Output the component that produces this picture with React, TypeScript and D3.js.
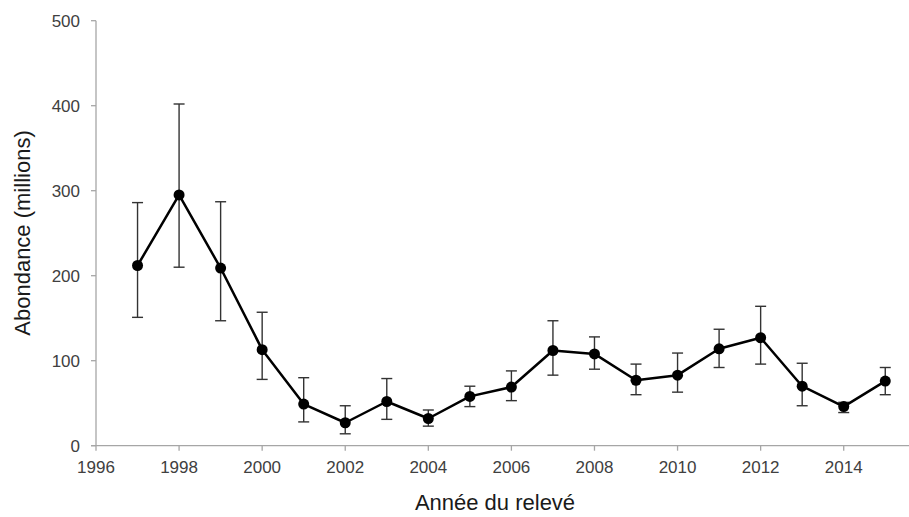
import React from "react";
import * as d3 from "d3";

const years = [1997, 1998, 1999, 2000, 2001, 2002, 2003, 2004, 2005, 2006, 2007, 2008, 2009, 2010, 2011, 2012, 2013, 2014, 2015];
const abundance = [212, 295, 209, 113, 49, 27, 52, 32, 58, 69, 112, 108, 77, 83, 114, 127, 70, 46, 76];
const upper = [286, 402, 287, 157, 80, 47, 79, 42, 70, 88, 147, 128, 96, 109, 137, 164, 97, 51, 92];
const lower = [151, 210, 147, 78, 28, 14, 31, 23, 46, 53, 83, 90, 60, 63, 92, 96, 47, 39, 60];
const xTicks = [1996, 1998, 2000, 2002, 2004, 2006, 2008, 2010, 2012, 2014];
const yTicks = [0, 100, 200, 300, 400, 500];

const W = 909;
const H = 517;
const FONT = "'Liberation Sans', Arial, sans-serif";

export default function App() {
  const x = d3.scaleLinear().domain([1996, 2016]).range([96, 926.8]);
  const y = d3.scaleLinear().domain([0, 500]).range([445.7, 20.7]);
  const line = d3
    .line<number>()
    .x((_, i) => x(years[i]))
    .y((d) => y(d));
  const axisColor = "#a6a6a6";
  const cap = 5.5;

  return (
    <svg
      width={W}
      height={H}
      style={{ position: "absolute", left: 0, top: 0, background: "#fff" }}
      fontFamily={FONT}
    >
      {/* Y axis */}
      <line x1={x(1996)} x2={x(1996)} y1={y(500)} y2={y(0)} stroke={axisColor} strokeWidth={1.3} />
      {yTicks.map((t) => (
        <g key={"y" + t}>
          <line x1={x(1996) - 5} x2={x(1996)} y1={y(t)} y2={y(t)} stroke={axisColor} strokeWidth={1.3} />
          <text x={80} y={y(t)} dy="0.35em" textAnchor="end" fontSize={17} fill="#404040">
            {t}
          </text>
        </g>
      ))}
      {/* X axis */}
      <line x1={x(1996) - 5} x2={W} y1={y(0)} y2={y(0)} stroke={axisColor} strokeWidth={1.3} />
      {xTicks.map((t) => (
        <g key={"x" + t}>
          <line x1={x(t)} x2={x(t)} y1={y(0)} y2={y(0) + 5} stroke={axisColor} strokeWidth={1.3} />
          <text x={x(t)} y={473} textAnchor="middle" fontSize={17} fill="#404040">
            {t}
          </text>
        </g>
      ))}
      {/* Axis titles */}
      <text x={495} y={510} textAnchor="middle" fontSize={22} fill="#1a1a1a">
        Année du relevé
      </text>
      <text
        transform={`translate(30, 233) rotate(-90)`}
        textAnchor="middle"
        fontSize={22}
        fill="#1a1a1a"
      >
        Abondance (millions)
      </text>
      {/* Error bars */}
      {years.map((yr, i) => (
        <g key={"e" + yr} stroke="#333" strokeWidth={1.4}>
          <line x1={x(yr)} x2={x(yr)} y1={y(upper[i])} y2={y(lower[i])} />
          <line x1={x(yr) - cap} x2={x(yr) + cap} y1={y(upper[i])} y2={y(upper[i])} />
          <line x1={x(yr) - cap} x2={x(yr) + cap} y1={y(lower[i])} y2={y(lower[i])} />
        </g>
      ))}
      {/* Line */}
      <path d={line(abundance) || ""} fill="none" stroke="#000" strokeWidth={2.5} strokeLinejoin="round" />
      {/* Points */}
      {years.map((yr, i) => (
        <circle key={"p" + yr} cx={x(yr)} cy={y(abundance[i])} r={5.5} fill="#000" />
      ))}
    </svg>
  );
}
